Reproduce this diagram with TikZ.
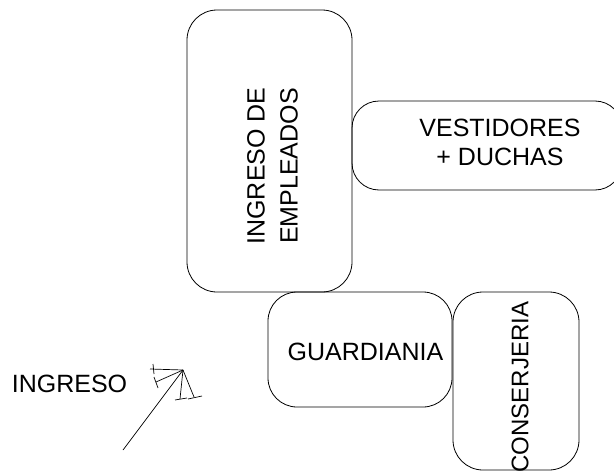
\documentclass[tikz,border=0pt]{standalone}
\usepackage{fontspec}
\setmainfont{Liberation Sans}
\begin{document}
\begin{tikzpicture}[x=1pt,y=-1pt,
  room/.style={draw, line width=0.8pt, rounded corners=#1, inner sep=0pt},
  room/.default=30pt,
  lbl/.style={inner sep=0pt, align=center, font=\fontsize{25}{29}\selectfont},
  stroke/.style={line width=0.7pt}]
\useasboundingbox (0,0) rectangle (614,471);
\clip (0,0) rectangle (614,471);
% rooms
\node[room, minimum width=165pt, minimum height=282pt] (emp) at (269.5,151) {};
\node[room=27pt, minimum width=270pt, minimum height=89pt] (vest) at (487,145.5) {};
\node[room=29pt, minimum width=184pt, minimum height=115pt] (guard) at (360,349.5) {};
\node[room=30pt, minimum width=126pt, minimum height=178pt] (cons) at (516,381) {};
% labels
\node[lbl, rotate=90, font=\fontsize{25}{33}\selectfont] (empT) at (272.5,166) {INGRESO DE\\EMPLEADOS};
\node[lbl] (vestT) at (500,142.5) {VESTIDORES\\+ DUCHAS};
\node[lbl] (guardT) at (365.5,351.5) {GUARDIANIA};
\node[lbl, rotate=90, font=\fontsize{24}{29}\selectfont] (consT) at (520,387) {CONSERJERIA};
\node[lbl] (ingT) at (69.5,383.5) {INGRESO};
% entry arrow
\coordinate (tip) at (183,370);
\coordinate (tail) at (123,450);
\coordinate (h1) at (150,369);
\coordinate (h2) at (156,382);
\coordinate (h3) at (180,399);
\coordinate (h4) at (194,397);
\draw[stroke] (tail) -- (tip);
\draw[stroke] (tip) -- (h1);
\draw[stroke] (tip) -- (h2);
\draw[stroke] (tip) -- (h3);
\draw[stroke] (tip) -- (h4);
\coordinate (t1a) at (153,364); \coordinate (t1b) at (154,374);
\coordinate (t2a) at (154,377); \coordinate (t2b) at (158,388);
\coordinate (t3a) at (175,400); \coordinate (t3b) at (187,398);
\coordinate (t4a) at (188,399); \coordinate (t4b) at (202,396);
\draw[stroke] (t1a) -- (t1b);
\draw[stroke] (t2a) -- (t2b);
\draw[stroke] (t3a) -- (t3b);
\draw[stroke] (t4a) -- (t4b);
\end{tikzpicture}
\end{document}
